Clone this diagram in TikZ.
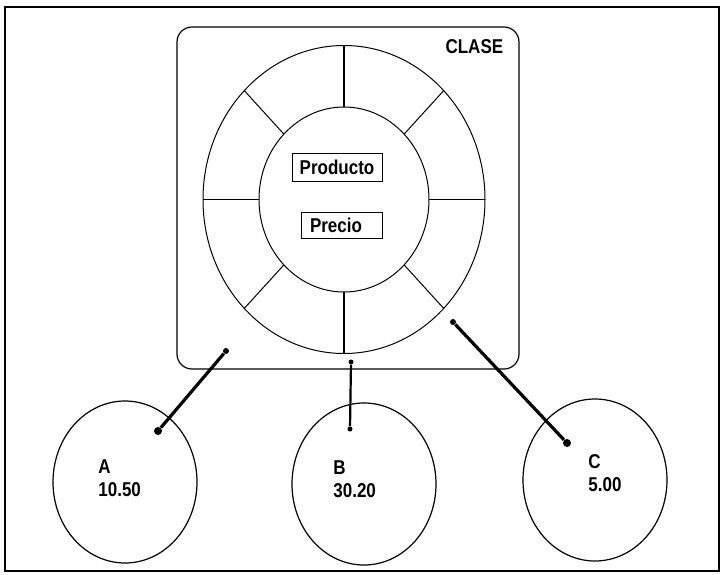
\documentclass[tikz,border=0pt]{standalone}
\usepackage{fontspec}
\newfontfamily\lblfont{Liberation Sans}[FakeStretch=0.85]
\usetikzlibrary{positioning, shapes.geometric}

\tikzset{
  lbl/.style={font=\lblfont\bfseries\fontsize{10}{11.5}\selectfont, inner sep=0pt},
  obj/.style={ellipse, draw, line width=0.6pt, minimum width=72pt, minimum height=81pt},
  attr/.style={lbl, draw, line width=0.5pt, minimum height=14pt},
  dot/.style={circle, fill, inner sep=0pt, minimum size=3pt},
  link/.style={line width=1.6pt}
}

\begin{document}
\begin{tikzpicture}[x=0.5pt, y=-0.5pt, thin]
  \useasboundingbox (0,0) rectangle (724,574);
  \draw[line width=0.6pt] (5,7) rectangle (719,571);

  % class box with the ring
  \node[draw, line width=0.6pt, rounded corners=7.5pt, minimum width=171pt, minimum height=171pt] (clase) at (348,198) {};
  \node[lbl, anchor=north east] (title) at ([shift={(-8pt,-6.5pt)}]clase.north east) {CLASE};
  \coordinate (c) at (344,199.5);
  \draw[line width=0.5pt] (c) ellipse [x radius=70.5pt, y radius=77pt];
  \draw[line width=0.5pt] (c) ellipse [x radius=42.5pt, y radius=46.25pt];
  \foreach \a in {0,45,...,315}
    \draw[line width=0.5pt] ([shift={(\a:42.5pt and 46.25pt)}]c) -- ([shift={(\a:70.5pt and 77pt)}]c);
  \draw[line width=0.9pt] ([shift={(90:42.5pt and 46.25pt)}]c) -- ([shift={(90:70.5pt and 77pt)}]c);
  \draw[line width=0.9pt] ([shift={(270:42.5pt and 46.25pt)}]c) -- ([shift={(270:70.5pt and 77pt)}]c);

  \node[attr, minimum width=45pt] (producto) at (337,167) {Producto};
  \node[attr, minimum height=13pt, text width=31.5pt, inner xsep=4.5pt, align=left] (precio) at (341.5,225) {Precio};

  % objects
  \node[obj] (oa) at (125,482) {};
  \node[obj] (ob) at (364,484) {};
  \node[obj] (oc) at (595,480) {};
  \node[lbl, anchor=north west, align=left] (ta) at (98,459.5) {A\\10.50};
  \node[lbl, anchor=north west, align=left] (tb) at (333,460.5) {B\\30.20};
  \node[lbl, anchor=north west, align=left] (tc) at (588,454.5) {C\\5.00};

  % instance links
  \node[dot] (a1) at (226,351) {};
  \node[dot, minimum size=4pt] (a2) at (158,431) {};
  \node[dot, minimum size=2.5pt] (b1) at (351,362) {};
  \node[dot, minimum size=2.5pt] (b2) at (350,429) {};
  \node[dot] (c1) at (453,322) {};
  \node[dot, minimum size=4pt] (c2) at (567,443) {};
  \draw[link] (a1) -- (a2);
  \draw[line width=1.1pt] (b1) -- (b2);
  \draw[link] (c1) -- (c2);
\end{tikzpicture}
\end{document}
